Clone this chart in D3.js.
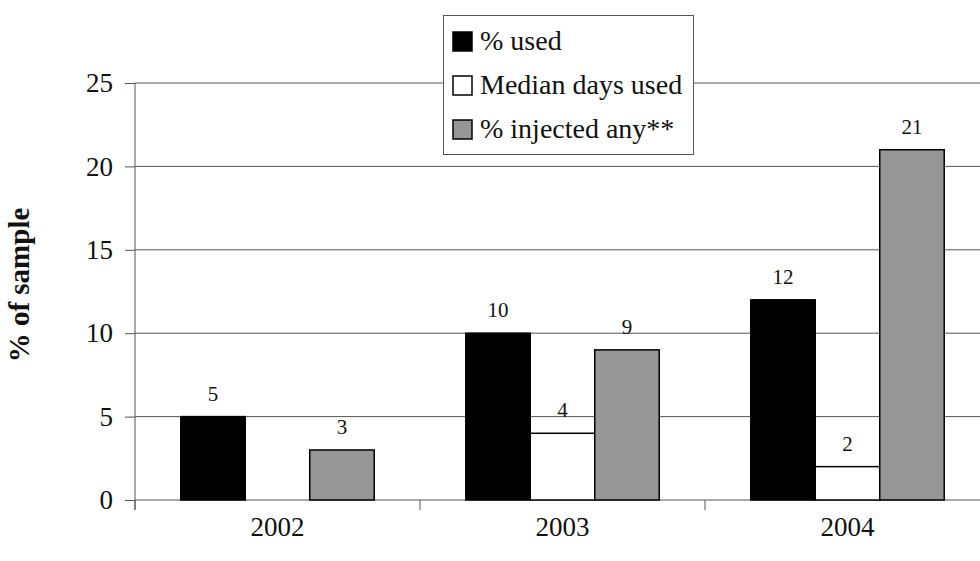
<!DOCTYPE html>
<html><head><meta charset="utf-8">
<script src="https://cdn.jsdelivr.net/npm/d3@7"></script>
<style>body{margin:0;background:#fff;}svg{display:block;}</style>
</head><body>
<script>
const categories = ["2002","2003","2004"];
const seriesNames = ["% used","Median days used","% injected any**"];
const pctUsed = [5,10,12];
const medianDays = [null,4,2];
const pctInjected = [3,9,21];
const yTicks = [0,5,10,15,20,25];
const fills = ["#000000","#ffffff","#969696"];

const W=980,H=561;
const svg=d3.select("body").append("svg").attr("width",W).attr("height",H);
const font="'Liberation Serif', 'DejaVu Serif', serif";
const y=d3.scaleLinear().domain([0,25]).range([500,83]);
const x0=d3.scaleBand().domain(categories).range([135,990]).paddingInner(0).paddingOuter(0);
const x1=d3.scaleBand().domain(seriesNames).range([0,x0.bandwidth()]).paddingInner(0).paddingOuter(0.71);

// gridlines
svg.append("g").selectAll("line").data(yTicks.filter(t=>t>0)).join("line")
 .attr("x1",135).attr("x2",W).attr("y1",d=>y(d)).attr("y2",d=>y(d))
 .attr("stroke","#555").attr("stroke-width",1);

// y axis
const yAxis=svg.append("g").attr("transform","translate(135,0)")
 .call(d3.axisLeft(y).tickValues(yTicks).tickSize(10).tickPadding(12).tickFormat(d3.format("d")));
yAxis.select(".domain").attr("stroke","#555").attr("d","M0,83V510");
yAxis.selectAll(".tick line").attr("stroke","#555");
yAxis.selectAll("text").attr("font-family",font).attr("font-size",27).attr("fill","#111");

// x axis
const xAxis=svg.append("g").attr("transform","translate(0,500)");
xAxis.append("line").attr("x1",135).attr("x2",W).attr("stroke","#555");
const bounds=categories.map(c=>x0(c)).concat([x0(categories[2])+x0.bandwidth()]);
xAxis.selectAll("line.t").data(bounds).join("line").attr("class","t")
 .attr("x1",d=>d).attr("x2",d=>d).attr("y1",0).attr("y2",10).attr("stroke","#555");
xAxis.selectAll("text").data(categories).join("text")
 .attr("x",d=>x0(d)+x0.bandwidth()/2).attr("y",36)
 .attr("text-anchor","middle").attr("font-family",font).attr("font-size",27).attr("fill","#111").text(d=>d);

// bars
const seriesVals=[pctUsed,medianDays,pctInjected];
const data=[];
categories.forEach((c,i)=>seriesNames.forEach((s,j)=>{
  if(seriesVals[j][i]!=null) data.push({c,s,j,v:seriesVals[j][i]});
}));
const bars=svg.append("g");
bars.selectAll("rect").data(data).join("rect")
 .attr("x",d=>x0(d.c)+x1(d.s)).attr("width",x1.bandwidth())
 .attr("y",d=>y(d.v)).attr("height",d=>y(0)-y(d.v))
 .attr("fill",d=>fills[d.j]).attr("stroke","#000").attr("stroke-width",1.5);
bars.selectAll("text").data(data).join("text")
 .attr("x",d=>x0(d.c)+x1(d.s)+x1.bandwidth()/2).attr("y",d=>y(d.v)-16)
 .attr("text-anchor","middle").attr("font-family",font).attr("font-size",21).attr("fill","#111")
 .text(d=>d.v);

// legend
const lg=svg.append("g");
lg.append("rect").attr("x",443.5).attr("y",15.5).attr("width",250).attr("height",139)
 .attr("fill","#fff").attr("stroke","#555").attr("stroke-width",1);
seriesNames.forEach((s,i)=>{
  const yy=32+i*44;
  lg.append("rect").attr("x",453).attr("y",yy).attr("width",19).attr("height",19)
    .attr("fill",fills[i]).attr("stroke","#000").attr("stroke-width",1.5);
  lg.append("text").attr("x",480).attr("y",yy+18).attr("font-family",font).attr("font-size",28)
    .attr("fill","#111").text(s);
});

// y label
svg.append("text").attr("transform","translate(29,285) rotate(-90)")
 .attr("text-anchor","middle").attr("font-family",font).attr("font-size",29).attr("font-weight","bold")
 .attr("fill","#111").text("% of sample");
</script>
</body></html>
